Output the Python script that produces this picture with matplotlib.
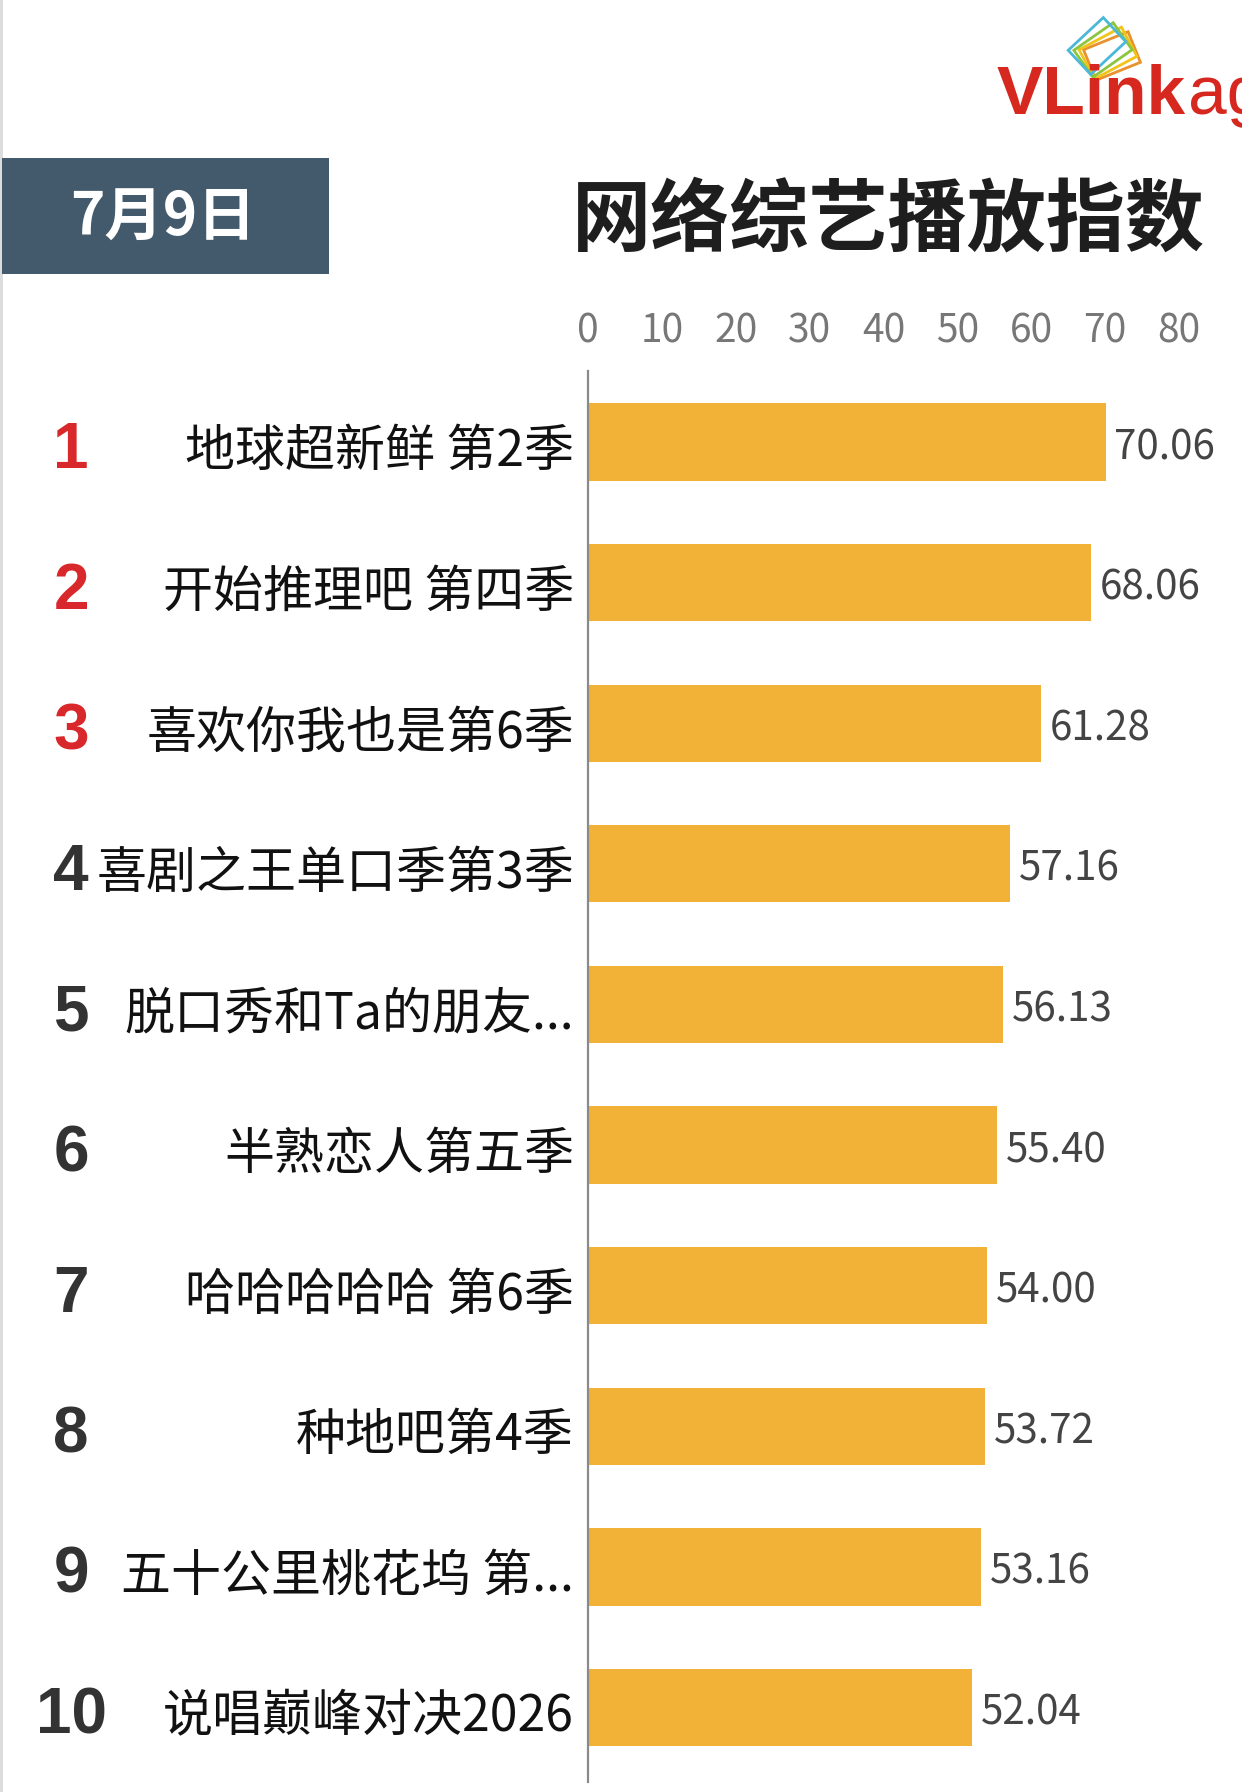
import math
import matplotlib
matplotlib.use("Agg")
import matplotlib.pyplot as plt
from matplotlib.patches import Rectangle, Polygon
import matplotlib.transforms as mtransforms

plt.rcParams['font.family'] = ['Noto Sans CJK SC', 'DejaVu Sans']

# ---- data ----
names = ['地球超新鲜 第2季', '开始推理吧 第四季', '喜欢你我也是第6季', '喜剧之王单口季第3季',
         '脱口秀和Ta的朋友...', '半熟恋人第五季', '哈哈哈哈哈 第6季', '种地吧第4季',
         '五十公里桃花坞 第...', '说唱巅峰对决2026']
values = [70.06, 68.06, 61.28, 57.16, 56.13, 55.40, 54.00, 53.72, 53.16, 52.04]
ranks = ['1', '2', '3', '4', '5', '6', '7', '8', '9', '10']
xticks = [0, 10, 20, 30, 40, 50, 60, 70, 80]
title = '网络综艺播放指数'
date_label = '7月9日'

W, H = 1242, 1792
fig = plt.figure(figsize=(W / 100, H / 100), dpi=100)
fig.patch.set_facecolor('white')

# background overlay in pixel coordinates
bg = fig.add_axes([0, 0, 1, 1], zorder=0)
bg.set_xlim(0, W)
bg.set_ylim(H, 0)
bg.axis('off')

# thin left border
bg.add_patch(Rectangle((0, 0), 3, H, color='#dcdcdc', lw=0))

# date box
bg.add_patch(Rectangle((2, 158), 327, 116, color='#435a6c', lw=0))
bg.text(163, 219, date_label, color='white', fontsize=42, fontweight='bold',
        ha='center', va='center')

# title
bg.text(888, 221, title, color='#1e1e1e', fontsize=57, fontweight='bold',
        ha='center', va='center')

# logo icon (stacked rotated frames): (colour, centre x, centre y, angle deg)
frames = [('#e8912d', 1112, 56, 22), ('#f0c419', 1108, 53, 28),
          ('#8cc63f', 1103, 50, 35), ('#4bb8d8', 1097, 46, 43)]
Lw, Sw = 48, 33
for c, cx, cy, ang in frames:
    t = math.radians(ang)
    ux, uy = math.cos(t), -math.sin(t)
    vx, vy = math.sin(t), math.cos(t)
    pts = []
    for a, b in [(-1, -1), (1, -1), (1, 1), (-1, 1)]:
        pts.append((cx + a * ux * Lw / 2 + b * vx * Sw / 2,
                    cy + a * uy * Lw / 2 + b * vy * Sw / 2))
    bg.add_patch(Polygon(pts, closed=True, fill=False, edgecolor=c, lw=2.0))

# logo text (cut by the right edge, as in the source image)
bg.text(997, 114, 'VLink', color='#d6281e', fontsize=50, fontweight='bold',
        family='Liberation Sans', ha='left', va='baseline')
bg.text(1188, 114, 'ag', color='#d6281e', fontsize=50,
        family='Liberation Sans', ha='left', va='baseline')

# ---- main chart ----
left, right = 588 / W, 1179 / W
top, bottom = 1 - 371 / H, 1 - 1782 / H
ax = fig.add_axes([left, bottom, right - left, top - bottom], zorder=1)
ax.patch.set_alpha(0)

ypos = list(range(len(values)))
ax.barh(ypos, values, height=0.55, color='#f2b237', zorder=2)
ax.set_xlim(0, 80)
ax.set_ylim(9.53, -0.505)

ax.xaxis.tick_top()
ax.set_xticks(xticks)
ax.set_xticklabels([str(t) for t in xticks])
ax.tick_params(axis='x', length=0, pad=14, labelsize=28, labelcolor='#777777')
ax.set_yticks(ypos)
ax.set_yticklabels(names)
ax.tick_params(axis='y', length=0, pad=10, labelsize=36, labelcolor='#111111')
ydown = mtransforms.ScaledTranslation(0, -3 / 72, fig.dpi_scale_trans)
for lbl in ax.get_yticklabels():
    lbl.set_transform(lbl.get_transform() + ydown)

for s in ['top', 'right', 'bottom']:
    ax.spines[s].set_visible(False)
ax.spines['left'].set_color('#8a8a8a')
ax.spines['left'].set_linewidth(1.6)

vdown = mtransforms.ScaledTranslation(0, -4 / 72, fig.dpi_scale_trans)
for y, v in zip(ypos, values):
    ax.text(v + 1.2, y, f'{v:.2f}', color='#444444', fontsize=29,
            ha='left', va='center', transform=ax.transData + vdown)

# rank numbers
rdown = mtransforms.ScaledTranslation(0, -6.5 / 72, fig.dpi_scale_trans)
trans = mtransforms.blended_transform_factory(fig.transFigure, ax.transData) + rdown
for y, r in zip(ypos, ranks):
    col = '#d8282b' if int(r) <= 3 else '#333333'
    ax.text(71 / W, y, r, transform=trans, color=col, fontsize=46,
            fontweight='bold', family='Liberation Sans', ha='center', va='center')

fig.savefig('out.png', dpi=100, facecolor='white')
